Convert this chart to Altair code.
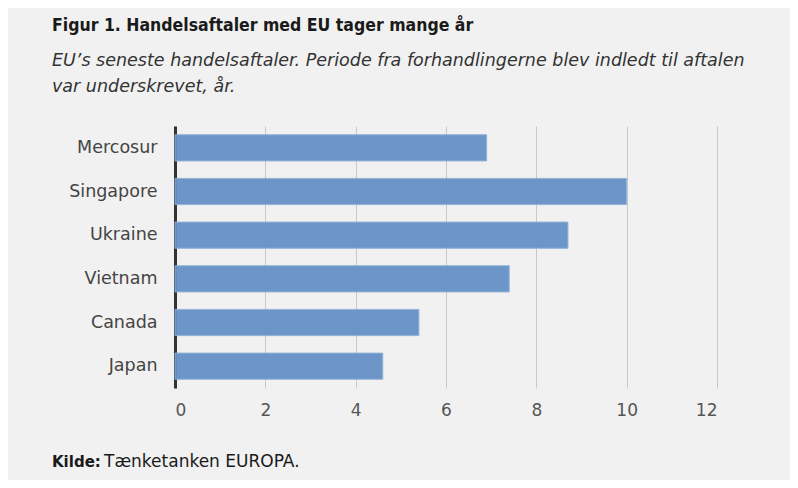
import altair as alt
import pandas as pd

countries = ["Mercosur", "Singapore", "Ukraine", "Vietnam", "Canada", "Japan"]
years = [6.9, 10.0, 8.7, 7.4, 5.4, 4.6]
x_ticks = [0, 2, 4, 6, 8, 10, 12]

title_text = "Figur 1. Handelsaftaler med EU tager mange år"
subtitle_lines = [
    "EU’s seneste handelsaftaler. Periode fra forhandlingerne blev indledt til aftalen",
    "var underskrevet, år.",
]
source_bold = "Kilde:"
source_rest = "Tænketanken EUROPA."

df = pd.DataFrame({"land": countries, "aar": years})

COND = "DejaVu Sans Condensed, sans-serif"
WIDE = "DejaVu Sans, sans-serif"

bars = alt.Chart(df).mark_bar(
    color="#6592c6", opacity=0.95, stroke="#8fb0d8", strokeWidth=1
).encode(
    x=alt.X(
        "aar:Q",
        scale=alt.Scale(domain=[0, 12], nice=False),
        axis=alt.Axis(
            values=x_ticks, title=None, grid=True, gridColor="#c9c9c9",
            gridWidth=1, domain=False, ticks=False, labelFontSize=17,
            labelColor="#555555", labelPadding=14, labelFont=WIDE,
        ),
    ),
    y=alt.Y(
        "land:N",
        sort=countries,
        scale=alt.Scale(paddingInner=0.4, paddingOuter=0.2),
        axis=alt.Axis(
            title=None, ticks=False, domain=True, domainColor="#333333",
            domainWidth=3, labelFontSize=17.5, labelColor="#444444",
            labelPadding=18, labelFont=WIDE,
        ),
    ),
)

def txt(s, x, y, size, weight="normal", style="normal", color="#222222", font=WIDE):
    return alt.Chart(pd.DataFrame({"t": [s]})).mark_text(
        align="left", baseline="alphabetic", fontSize=size, fontWeight=weight,
        fontStyle=style, color=color, font=font,
    ).encode(text="t:N", x=alt.value(x), y=alt.value(y))

layers = [
    bars,
    txt(title_text, -123, -95, 17.5, weight="bold", color="#1a1a1a", font=COND),
    txt(subtitle_lines[0], -123, -60, 17.5, style="italic", color="#333333"),
    txt(subtitle_lines[1], -123, -34, 17.5, style="italic", color="#333333"),
    txt(source_bold, -123, 341, 15, weight="bold", color="#1a1a1a"),
    txt(source_rest, -71, 341, 17, color="#1a1a1a"),
]

chart = alt.layer(*layers).properties(
    width=542, height=262,
    autosize=alt.AutoSizeParams(type="none"),
    padding={"left": 167, "top": 118, "right": 73, "bottom": 92},
    background="#f1f1f1",
).configure_view(stroke=None)

chart.save("out.html", embed_options={"renderer": "svg", "actions": False})
